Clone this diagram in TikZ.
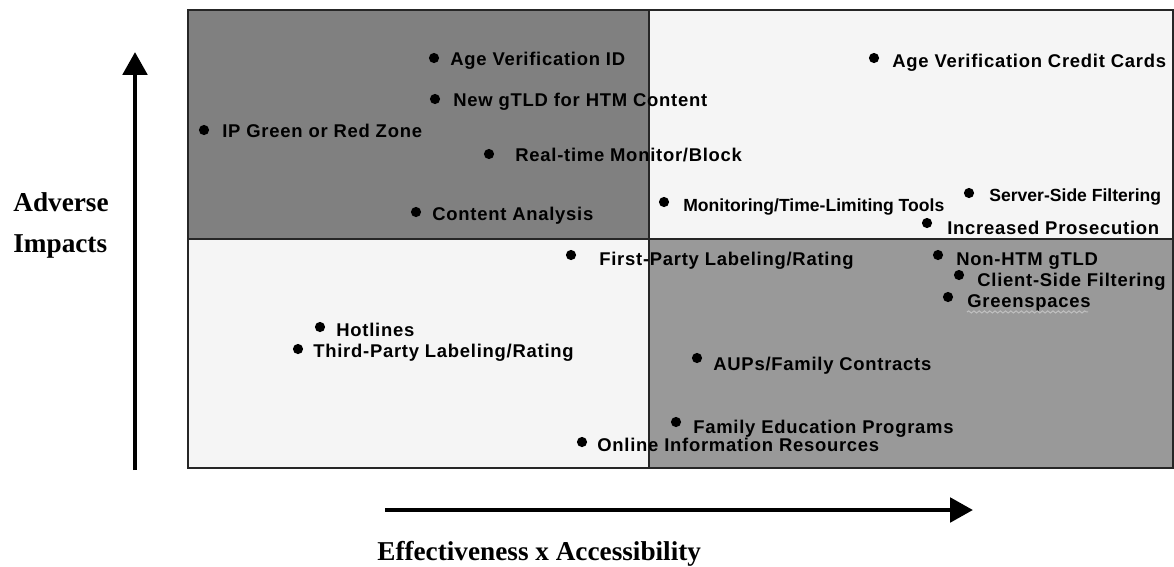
\documentclass[tikz,border=0pt]{standalone}
\usepackage{fontspec}
\setmainfont{Liberation Serif}
\newfontfamily\lblfont[LetterSpace=4]{Liberation Sans}
\newfontfamily\tightfont{Liberation Sans}
\usetikzlibrary{arrows.meta, decorations.pathmorphing}
\definecolor{darkquad}{HTML}{808080}
\definecolor{midquad}{HTML}{999999}
\definecolor{lightquad}{HTML}{F5F5F5}
\tikzset{
    item/.style={anchor=west, inner sep=0pt, text height=7.5pt, text depth=0pt, font=\lblfont\fontsize{10.5}{12}\selectfont\bfseries},
    itemtight/.style={item, font=\tightfont\fontsize{10}{12}\selectfont\bfseries},
    dot/.style={circle, fill=black, inner sep=0pt, minimum size=5.8pt},
    axislabel/.style={anchor=west, inner sep=0pt, text height=10.3pt, text depth=0pt, font=\fontsize{15.5}{18}\selectfont\bfseries},
    axisarrow/.style={line width=2.7pt, -{Triangle[width=13.7pt,length=13pt]}},
    frame/.style={draw=black!85, line width=0.9pt},
    squiggle/.style={decorate, decoration={snake, amplitude=0.6pt, segment length=3pt}, draw=black!25, line width=0.6pt}
}

\begin{document}
\begin{tikzpicture}[x=0.02cm, y=-0.02cm]
        \useasboundingbox (0,0) rectangle (1174,566);

        % -----------------------------------------------------------------
        % QUADRANTS
        % -----------------------------------------------------------------
        \fill[darkquad] (188,10) rectangle (649,239);
        \fill[lightquad] (649,10) rectangle (1173,239);
        \fill[lightquad] (188,239) rectangle (649,468);
        \fill[midquad] (649,239) rectangle (1173,468);
        \draw[frame] (188,10) rectangle (1173,468);
        \draw[frame] (649,10) -- (649,468);
        \draw[frame] (188,239) -- (1173,239);

        % -----------------------------------------------------------------
        % AXES
        % -----------------------------------------------------------------
        \coordinate (ybot) at (135,470);
        \coordinate (ytop) at (135,52);
        \draw[axisarrow] (ybot) -- (ytop);
        \node[axislabel] (adverse) at (13,202) {Adverse};
        \node[axislabel] (impacts) at (13,243) {Impacts};

        \coordinate (xleft) at (385,510);
        \coordinate (xright) at (973,510);
        \draw[axisarrow] (xleft) -- (xright);
        \node[axislabel] (effect) at (377,551) {Effectiveness x Accessibility};

        % -----------------------------------------------------------------
        % TOP LEFT
        % -----------------------------------------------------------------
        \node[dot] (d-ageid) at (434,58) {};
        \node[item] (ageid) at (450,59) {Age Verification ID};
        \node[dot] (d-gtld) at (435,99) {};
        \node[item] (gtld) at (453,100) {New gTLD for HTM Content};
        \node[dot] (d-ipzone) at (204,130) {};
        \node[item] (ipzone) at (222,131) {IP Green or Red Zone};
        \node[dot] (d-realtime) at (489,154) {};
        \node[item] (realtime) at (515,155) {Real-time Monitor/Block};
        \node[dot] (d-content) at (416,212) {};
        \node[item] (content) at (432,214) {Content Analysis};

        % -----------------------------------------------------------------
        % TOP RIGHT
        % -----------------------------------------------------------------
        \node[dot] (d-agecc) at (874,58) {};
        \node[item] (agecc) at (892,61) {Age Verification Credit Cards};
        \node[dot] (d-monitor) at (664,202) {};
        \node[itemtight] (monitor) at (683,205) {Monitoring/Time-Limiting Tools};
        \node[dot] (d-server) at (969,193) {};
        \node[itemtight] (server) at (989,195) {Server-Side Filtering};
        \node[dot] (d-prosec) at (927,223) {};
        \node[item] (prosec) at (947,228) {Increased Prosecution};

        % -----------------------------------------------------------------
        % BOTTOM LEFT
        % -----------------------------------------------------------------
        \node[dot] (d-firstp) at (571,255) {};
        \node[item] (firstp) at (599,259) {First-Party Labeling/Rating};
        \node[dot] (d-hotline) at (320,327) {};
        \node[item] (hotline) at (336,330) {Hotlines};
        \node[dot] (d-thirdp) at (298,349) {};
        \node[item] (thirdp) at (313,351) {Third-Party Labeling/Rating};
        \node[dot] (d-online) at (582,442) {};
        \node[item] (online) at (597,445) {Online Information Resources};

        % -----------------------------------------------------------------
        % BOTTOM RIGHT
        % -----------------------------------------------------------------
        \node[dot] (d-nonhtm) at (938,255) {};
        \node[item] (nonhtm) at (956,259) {Non-HTM gTLD};
        \node[dot] (d-client) at (959,275) {};
        \node[item] (client) at (977,280) {Client-Side Filtering};
        \node[dot] (d-green) at (948,297) {};
        \node[item] (green) at (967,301) {Greenspaces};
        \draw[squiggle] (green.south west) ++(0,4) -- ++(121,0);
        \node[dot] (d-aups) at (697,358) {};
        \node[item] (aups) at (713,364) {AUPs/Family Contracts};
        \node[dot] (d-famed) at (676,422) {};
        \node[item] (famed) at (693,427) {Family Education Programs};

    \end{tikzpicture}
\end{document}
